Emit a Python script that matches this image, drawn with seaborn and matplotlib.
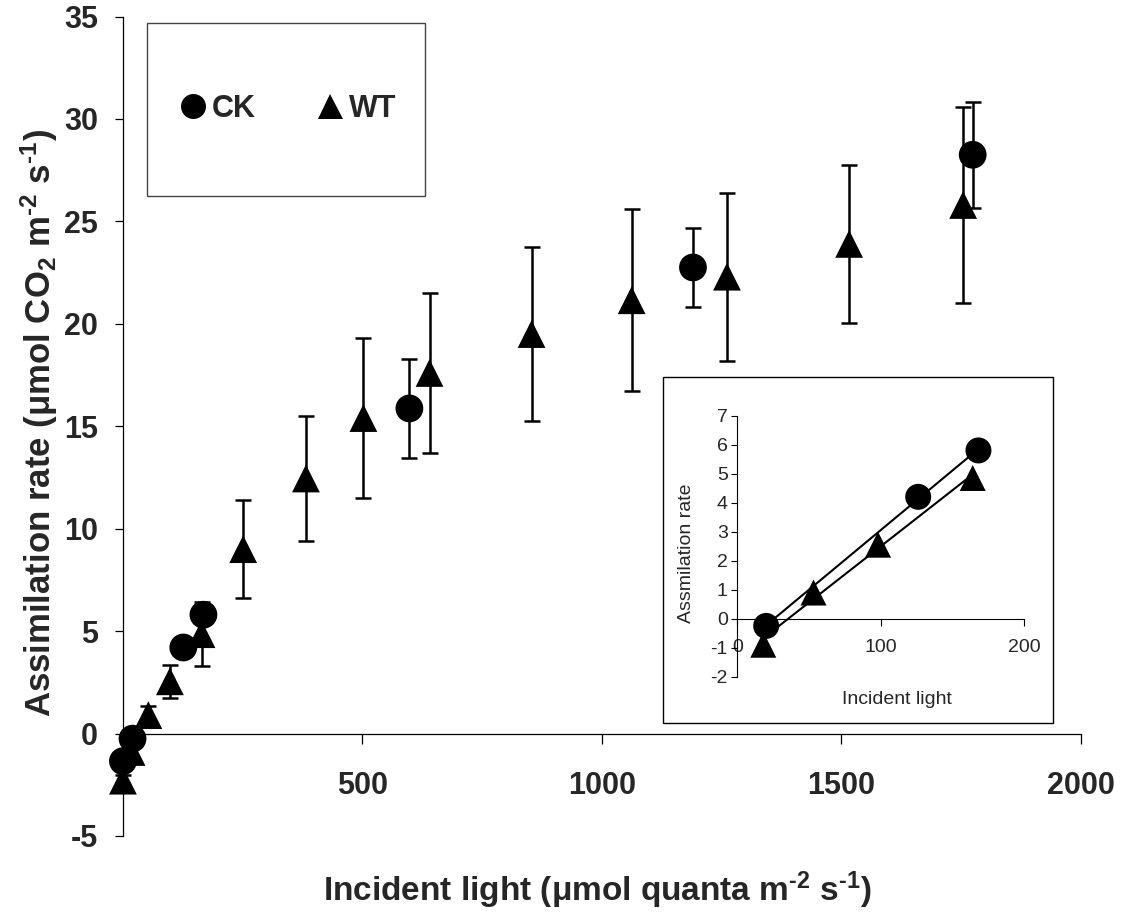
import numpy as np
import pandas as pd
import matplotlib
matplotlib.use("Agg")
import matplotlib.pyplot as plt
from matplotlib.patches import Rectangle
import seaborn as sns

# Light response of CO2 assimilation for two lines (mean +/- SE)
ck_light = [0, 20, 126, 168, 598, 1190, 1774]
ck_rate = [-1.35, -0.25, 4.2, 5.8, 15.87, 22.75, 28.25]
ck_err = [0.3, 0.3, 0.4, 0.4, 2.43, 1.95, 2.6]

wt_light = [0, 18, 53, 98, 164, 251, 382, 502, 640, 853, 1062, 1261, 1516, 1754]
wt_rate = [-2.3, -0.9, 0.9, 2.55, 4.85, 9.0, 12.45, 15.4, 17.6, 19.5, 21.15, 22.3, 23.9, 25.8]
wt_err = [0.3, 0.3, 0.45, 0.8, 1.55, 2.4, 3.05, 3.9, 3.9, 4.25, 4.45, 4.1, 3.85, 4.8]

lines = ["CK", "WT"]
main_xticks = [500, 1000, 1500, 2000]
main_yticks = [-5, 0, 5, 10, 15, 20, 25, 30, 35]
inset_xticks = [0, 100, 200]
inset_yticks = [-2, -1, 0, 1, 2, 3, 4, 5, 6, 7]

sns.set_theme(style="ticks")
plt.rcParams["font.family"] = ["Liberation Sans", "DejaVu Sans"]
plt.rcParams["axes.unicode_minus"] = False
plt.rcParams["mathtext.fontset"] = "custom"
plt.rcParams["mathtext.rm"] = "Liberation Sans:bold"
plt.rcParams["mathtext.bf"] = "Liberation Sans:bold"
plt.rcParams["mathtext.it"] = "Liberation Sans:bold"
plt.rcParams["mathtext.default"] = "regular"

df_wt = pd.DataFrame({"light": wt_light, "rate": wt_rate, "line": "WT"})
df_ck = pd.DataFrame({"light": ck_light, "rate": ck_rate, "line": "CK"})
# triangles first so the circles sit on top where they overlap
df = pd.concat([df_wt, df_ck], ignore_index=True)

fig = plt.figure(figsize=(11.28, 9.22), dpi=100)
ax = fig.add_axes([0.109, 0.0933, 0.8493, 0.8888])

err_kw = dict(fmt="none", ecolor="black", elinewidth=1.8, capsize=5.5, capthick=1.8, zorder=2)
for lt, rt, er in ((wt_light, wt_rate, wt_err), (ck_light, ck_rate, ck_err)):
    eb = ax.errorbar(lt, rt, yerr=er, **err_kw)
    for art in eb.lines[1] + eb.lines[2]:
        art.set_clip_on(False)

sns.scatterplot(data=df, x="light", y="rate", style="line", style_order=lines,
                markers={"CK": "o", "WT": "^"}, color="black", s=400,
                linewidth=0, ax=ax, zorder=3, legend=True, clip_on=False)

ax.set_xlim(0, 2000)
ax.set_ylim(-5, 35)
ax.spines["top"].set_visible(False)
ax.spines["right"].set_visible(False)
ax.spines["bottom"].set_position(("data", 0))
for s in ("left", "bottom"):
    ax.spines[s].set_color("black")
    ax.spines[s].set_linewidth(0.9)

ax.set_xticks(main_xticks)
ax.set_yticks(main_yticks)
ax.tick_params(axis="x", which="major", bottom=True, direction="out", length=7,
               width=0.9, color="black", pad=20, labelsize=22)
ax.tick_params(axis="y", which="major", left=True, direction="out", length=6,
               width=0.9, color="black", pad=12, labelsize=22)
for lab in ax.get_xticklabels() + ax.get_yticklabels():
    lab.set_fontweight("bold")

ax.set_xlabel("Incident light (\u03bcmol quanta m$^{\\text{-2}}$ s$^{\\text{-1}}$)",
              fontsize=24, fontweight="bold", va="center")
ax.xaxis.set_label_coords(0.495, -0.066)
ax.set_ylabel("Assimilation rate (\u03bcmol CO$_{2}$ m$^{\\text{-2}}$ s$^{\\text{-1}}$)",
              fontsize=25, fontweight="bold", va="center")
ax.yaxis.set_label_coords(-0.087, 0.504)

# legend inside a framed box
handles, labels = ax.get_legend_handles_labels()
ax.get_legend().remove()
for h in handles:
    if hasattr(h, "set_markersize"):
        h.set_markersize(18)
    elif hasattr(h, "set_sizes"):
        h.set_sizes([324])
box = Rectangle((0.0247, 0.7814), 0.2905, 0.2109, transform=ax.transAxes,
                facecolor="white", edgecolor="#444444", linewidth=1.0, zorder=5)
ax.add_patch(box)
leg = ax.legend(handles, labels, loc="center", bbox_to_anchor=(0.172, 0.887),
                ncol=2, frameon=False, handlelength=0.9,
                handletextpad=0.15, columnspacing=2.0, borderpad=0,
                prop={"weight": "bold", "size": 22})
leg.set_zorder(6)

# inset: low-light region with linear fits
inset_box = Rectangle((0.5878, 0.2158), 0.3457, 0.3753, transform=fig.transFigure,
                      facecolor="white", edgecolor="black", linewidth=1.0,
                      zorder=8, clip_on=False)
ax.add_patch(inset_box)

ins = fig.add_axes([0.6538, 0.2661, 0.2543, 0.2831])
ins.patch.set_alpha(0)
low = df[(df["light"] > 1) & (df["light"] < 200)]
for name in lines:
    sub = low[low["line"] == name]
    sns.regplot(data=sub, x="light", y="rate", scatter=False, ci=None,
                color="black", line_kws={"linewidth": 1.5}, ax=ins)
sns.scatterplot(data=low, x="light", y="rate", style="line", style_order=lines,
                markers={"CK": "o", "WT": "^"}, color="black", s=350,
                linewidth=0, ax=ins, zorder=3, legend=False, clip_on=False)
ins.set_xlim(0, 200)
ins.set_ylim(-2, 7)
ins.spines["top"].set_visible(False)
ins.spines["right"].set_visible(False)
ins.spines["bottom"].set_position(("data", 0))
for s in ("left", "bottom"):
    ins.spines[s].set_color("black")
    ins.spines[s].set_linewidth(0.8)
ins.set_xticks(inset_xticks)
ins.set_yticks(inset_yticks)
ins.tick_params(axis="x", which="major", bottom=True, direction="out", length=5,
                width=0.8, color="black", pad=10, labelsize=14)
ins.tick_params(axis="y", which="major", left=True, direction="out", length=4,
                width=0.8, color="black", pad=3, labelsize=14)
ins.set_xlabel("Incident light", fontsize=14, va="center")
ins.xaxis.set_label_coords(0.555, -0.089)
ins.set_ylabel("Assmilation rate", fontsize=14, va="center")
ins.yaxis.set_label_coords(-0.177, 0.474)

fig.savefig("out.png", dpi=100, facecolor="white")
